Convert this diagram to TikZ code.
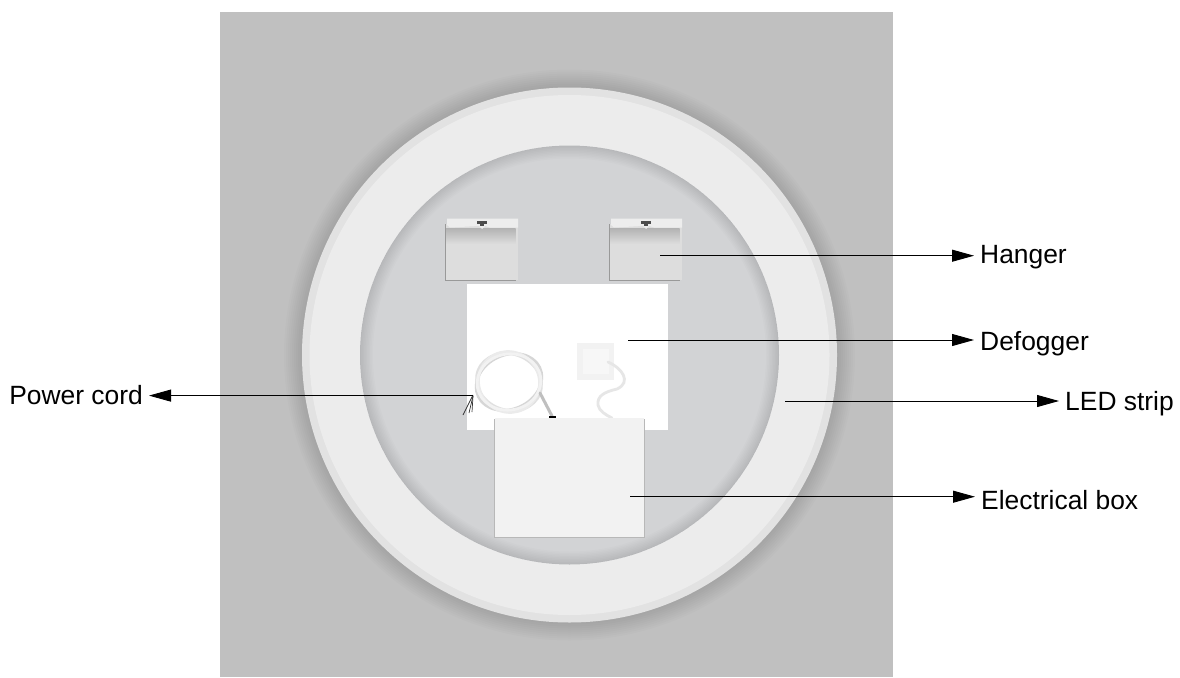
\documentclass[tikz,border=0pt]{standalone}
\usepackage{fontspec}
\setmainfont{Liberation Sans}
\usetikzlibrary{arrows.meta}

\definecolor{wallgray}{HTML}{C0C0C0}
\definecolor{rimgray}{HTML}{E2E2E2}
\definecolor{stripgray}{HTML}{ECECEC}
\definecolor{glassgray}{HTML}{D2D3D5}
\definecolor{boxgray}{HTML}{F2F2F2}
\definecolor{cordgray}{HTML}{E6E6E6}
\definecolor{hangergray}{HTML}{DDDDDD}

\begin{document}
\begin{tikzpicture}[x=1pt, y=-1pt, >={Triangle[length=22pt, width=12pt]},
  tag/.style={inner sep=6pt, text height=18pt, text depth=5pt, font=\fontsize{26.4}{30}\selectfont},
  leader/.style={line width=0.9pt, black},
  cord/.style={draw=cordgray, line width=2.8pt, line cap=round},
  wire/.style={draw=black!80, line width=0.7pt},
  softshadow/.style={black, opacity=0.012}]
  \useasboundingbox (0,0) rectangle (1180,677);

  % Wall and ring.
  \fill[wallgray] (220,12) rectangle (893,677);
  \foreach \r in {2,4,...,18}
    \fill[softshadow] (569.5,355) circle [radius=267.5pt+\r pt];
  \fill[rimgray] (569.5,355) circle [radius=267.5pt];
  \fill[stripgray] (569.5,355) circle [radius=260pt];
  \fill[glassgray] (569.5,355) circle [radius=209.5pt];
  \begin{scope}
    \clip (569.5,355) circle [radius=209.5pt];
    \foreach \r in {2,5,...,26}
      \draw[black, opacity=0.012, line width=\r pt] (569.5,355) circle [radius=209.5pt];
  \end{scope}

  % Defogger sheet, hangers.
  \fill[white] (467,284) rectangle (668,430);
  \foreach \hx in {445,609} {
    \fill[black!40] (\hx-0.5,224) rectangle (\hx+71,281);
    \fill[hangergray] (\hx+0.7,224) rectangle (\hx+72.5,279.7);
    \shade[top color=black!30, bottom color=hangergray] (\hx+1,228) rectangle (\hx+70.5,244);
    \fill[black!7] (\hx+2,218.5) -- (\hx+73,218.5) -- (\hx+73,227.5) -- (\hx+45,227.5)
      -- (\hx+40,226) -- (\hx+37,229) -- (\hx+34,226) -- (\hx+5,227.5) -- (\hx+2,225) -- cycle;
    \fill[black!70] (\hx+32,221) rectangle (\hx+42,223.5);
    \fill[black!70] (\hx+35,223) rectangle (\hx+39,226);
  }

  % Switch and its cable.
  \fill[black!5] (577,343) rectangle (614,380);
  \fill[black!3] (583,349) rectangle (609,374);
  \draw[cord] (608,362) .. controls (622,368) and (632,382) .. (617,389)
    .. controls (604,392) and (597,396) .. (598,405) .. controls (599,411) and (606,415) .. (612,418);

  % Power cord coil.
  \foreach \a/\rx/\ry/\col in {0/32/29/black!22, 25/34/27/black!16, -20/33/28/black!12, 50/30/31/black!8, 10/32/28/black!5}
    \draw[cord, draw=\col] (509,382) ellipse [x radius=\rx pt, y radius=\ry pt, rotate=\a];
  \draw[cord, draw=black!25, line width=3pt] (540,393) -- (552,416);
  \draw[black, line width=1.5pt] (549,417) -- (556,417);
  \draw[wire] (473,395) -- (463,415);
  \draw[wire] (473,396) -- (469,413);
  \draw[wire] (473,396) -- (472,412);

  % Electrical box.
  \fill[black!28] (494,419) rectangle (645,538);
  \fill[boxgray] (495,418) rectangle (644,536.5);

  % Labels.
  \node[tag, anchor=west] (hanger) at (974,256.5) {Hanger};
  \node[tag, anchor=west] (defogger) at (974,344) {Defogger};
  \node[tag, anchor=west] (ledstrip) at (1059,404) {LED strip};
  \node[tag, anchor=west] (elecbox) at (975,503) {Electrical box};
  \node[tag, anchor=east] (powercord) at (149,398) {Power cord};

  \coordinate (hangerend) at (660,255.7);
  \coordinate (defoggerend) at (628,340);
  \coordinate (ledend) at (785,401);
  \coordinate (boxend) at (630,496.7);
  \coordinate (cordend) at (473,395.6);

  \draw[->, leader] (hangerend) -- (hangerend -| hanger.west);
  \draw[->, leader] (defoggerend) -- (defoggerend -| defogger.west);
  \draw[->, leader] (ledend) -- (ledend -| ledstrip.west);
  \draw[->, leader] (boxend) -- (boxend -| elecbox.west);
  \draw[->, leader] (cordend) -- (cordend -| powercord.east);
\end{tikzpicture}
\end{document}
